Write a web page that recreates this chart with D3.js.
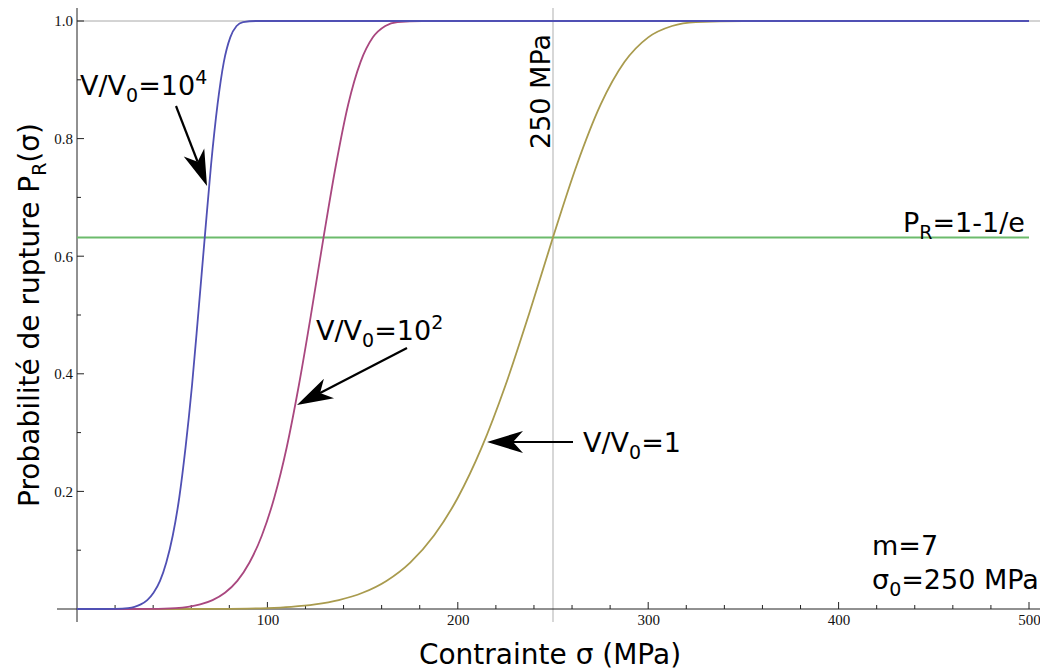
<!DOCTYPE html>
<html><head><meta charset="utf-8">
<script src="https://cdn.jsdelivr.net/npm/d3@7"></script>
<style>
html,body{margin:0;padding:0;background:#fff;}
svg{display:block;}
</style></head>
<body>
<svg id="c" width="1040" height="670"></svg>
<script>
// ---- data ----
const xTicks = [100, 200, 300, 400, 500];
const yTicks = [0.2, 0.4, 0.6, 0.8, 1.0];
const probs = [0, 0.0000, 0.0002, 0.0016, 0.0037, 0.0078, 0.0151, 0.0276, 0.0478, 0.0790, 0.1250, 0.1892, 0.2743, 0.3801, 0.5026, 0.6321, 0.7551, 0.8576, 0.9301, 0.9722, 0.9915, 0.9981, 1.0000, 1.0000];
const sigmaV1   = [0, 50, 75, 100, 112.5, 125, 137.5, 150, 162.5, 175, 187.5, 200, 212.5, 225, 237.5, 250, 262.5, 275, 287.5, 300, 312.5, 325, 350, 500];
const sigmaV1e2 = [0, 25.9, 38.8, 51.8, 58.3, 64.7, 71.2, 77.7, 84.2, 90.6, 97.1, 103.6, 110.1, 116.5, 123.0, 129.5, 136.0, 142.4, 148.9, 155.4, 161.9, 168.3, 181.3, 500];
const sigmaV1e4 = [0, 13.4, 20.1, 26.8, 30.2, 33.5, 36.9, 40.2, 43.6, 46.9, 50.3, 53.7, 57.0, 60.4, 63.7, 67.1, 70.4, 73.8, 77.1, 80.5, 83.8, 87.2, 93.9, 500];
const seriesNames = ["V/V0=1", "V/V0=10^2", "V/V0=10^4"];
const seriesColors = ["#a99b4e", "#a9477f", "#5050b4"];
const thresholdP = 0.632;
const sigma0 = 250;

const svg = d3.select("#c");
const x = d3.scaleLinear().domain([0, 500]).range([77, 1029]);
const y = d3.scaleLinear().domain([0, 1]).range([609, 21]);

// reference lines
svg.append("line").attr("x1", 77).attr("x2", 1040).attr("y1", y(1)).attr("y2", y(1))
  .attr("stroke", "#a8a8a8").attr("stroke-width", 1);
svg.append("line").attr("x1", x(sigma0)).attr("x2", x(sigma0)).attr("y1", 8).attr("y2", 622)
  .attr("stroke", "#bdbdbd").attr("stroke-width", 1.2);

// axes
const fmtY = d => d.toFixed(1);
const gx = svg.append("g").attr("transform", `translate(0,${y(0)})`)
  .call(d3.axisBottom(x).tickValues(xTicks).tickSize(0).tickPadding(5));
gx.select(".domain").remove();
gx.selectAll("text").attr("font-family", "Liberation Serif, serif").attr("font-size", 15).attr("fill", "#111");
const gy = svg.append("g").attr("transform", `translate(${x(0)},0)`)
  .call(d3.axisLeft(y).tickValues(yTicks).tickFormat(fmtY).tickSize(0).tickPadding(4));
gy.select(".domain").remove();
gy.selectAll("text").attr("font-family", "Liberation Serif, serif").attr("font-size", 15).attr("fill", "#111");

// axis lines
svg.append("line").attr("x1", 57).attr("x2", 1040).attr("y1", y(0)).attr("y2", y(0)).attr("stroke", "#222").attr("stroke-width", 1);
svg.append("line").attr("x1", x(0)).attr("x2", x(0)).attr("y1", 8).attr("y2", 622).attr("stroke", "#222").attr("stroke-width", 1);
// ticks (inside)
const xMinor = d3.range(20, 501, 20);
svg.append("g").selectAll("line").data(xMinor).join("line")
  .attr("x1", d => x(d)).attr("x2", d => x(d))
  .attr("y1", y(0)).attr("y2", d => y(0) - (d % 100 === 0 ? 7 : 4))
  .attr("stroke", "#222").attr("stroke-width", 1);
const yMinor = d3.range(1, 11).map(i => i / 10);
svg.append("g").selectAll("line").data(yMinor).join("line")
  .attr("y1", d => y(d)).attr("y2", d => y(d))
  .attr("x1", x(0)).attr("x2", (d, i) => x(0) + ((i % 2 === 1) ? 7 : 4))
  .attr("stroke", "#222").attr("stroke-width", 1);

// threshold line
svg.append("line").attr("x1", x(0)).attr("x2", x(500)).attr("y1", y(thresholdP)).attr("y2", y(thresholdP))
  .attr("stroke", "#6cbb6c").attr("stroke-width", 2);

// curves
const line = d3.line().x(d => x(d[0])).y(d => y(d[1])).curve(d3.curveMonotoneX);
[sigmaV1, sigmaV1e2, sigmaV1e4].forEach((s, i) => {
  svg.append("path").datum(s.map((v, j) => [v, probs[j]]))
    .attr("d", line).attr("fill", "none").attr("stroke", seriesColors[i]).attr("stroke-width", 1.8);
});

// arrows
function arrow(x1, y1, x2, y2) {
  const ang = Math.atan2(y2 - y1, x2 - x1);
  const L = 36, W = 11, N = 26;
  const ca = Math.cos(ang), sa = Math.sin(ang);
  const bx = x2 - ca * L, by = y2 - sa * L;
  const nx = x2 - ca * N, ny = y2 - sa * N;
  svg.append("line").attr("x1", x1).attr("y1", y1).attr("x2", nx).attr("y2", ny)
    .attr("stroke", "#000").attr("stroke-width", 2.2);
  const pts = [[x2, y2], [bx - sa * W, by + ca * W], [nx, ny], [bx + sa * W, by - ca * W]];
  svg.append("path").attr("d", "M" + pts.map(p => p.join(",")).join("L") + "Z").attr("fill", "#000");
}
arrow(176, 106, 207, 186);
arrow(407, 348, 297, 405);
arrow(573, 442, 487, 442);

// labels
const F = "DejaVu Sans, sans-serif";
const FS = 27, SS = 19;
function vlabel(tx, ty, exp) {
  const t = svg.append("text").attr("x", tx).attr("y", ty).attr("font-family", F).attr("font-size", FS).attr("fill", "#000");
  t.append("tspan").text("V/V");
  t.append("tspan").attr("font-size", SS).attr("dy", 7).text("0");
  t.append("tspan").attr("dy", -7).text("=" + (exp ? "10" : "1"));
  if (exp) t.append("tspan").attr("font-size", SS).attr("dy", -11).text(exp);
}
vlabel(80, 95, "4");
vlabel(316, 340, "2");
vlabel(583, 452, null);

svg.append("text").attr("transform", `translate(550,149) rotate(-90)`)
  .attr("font-family", F).attr("font-size", FS).text("250 MPa");

const pr = svg.append("text").attr("x", 903).attr("y", 232).attr("font-family", F).attr("font-size", FS);
pr.append("tspan").text("P");
pr.append("tspan").attr("font-size", SS).attr("dy", 7).text("R");
pr.append("tspan").attr("dy", -7).text("=1-1/e");

svg.append("text").attr("x", 872).attr("y", 555).attr("font-family", F).attr("font-size", FS).text("m=7");
const s0 = svg.append("text").attr("x", 872).attr("y", 589).attr("font-family", F).attr("font-size", FS);
s0.append("tspan").text("σ");
s0.append("tspan").attr("font-size", SS).attr("dy", 7).text("0");
s0.append("tspan").attr("dy", -7).text("=250 MPa");

// axis titles
svg.append("text").attr("x", 550).attr("y", 664).attr("text-anchor", "middle")
  .attr("font-family", F).attr("font-size", 28).text("Contrainte σ (MPa)");
const yt = svg.append("text").attr("transform", "translate(39,315) rotate(-90)").attr("text-anchor", "middle")
  .attr("font-family", F).attr("font-size", 28);
yt.append("tspan").text("Probabilité de rupture P");
yt.append("tspan").attr("font-size", 19).attr("dy", 7).text("R");
yt.append("tspan").attr("dy", -7).text("(σ)");
</script>
</body></html>
